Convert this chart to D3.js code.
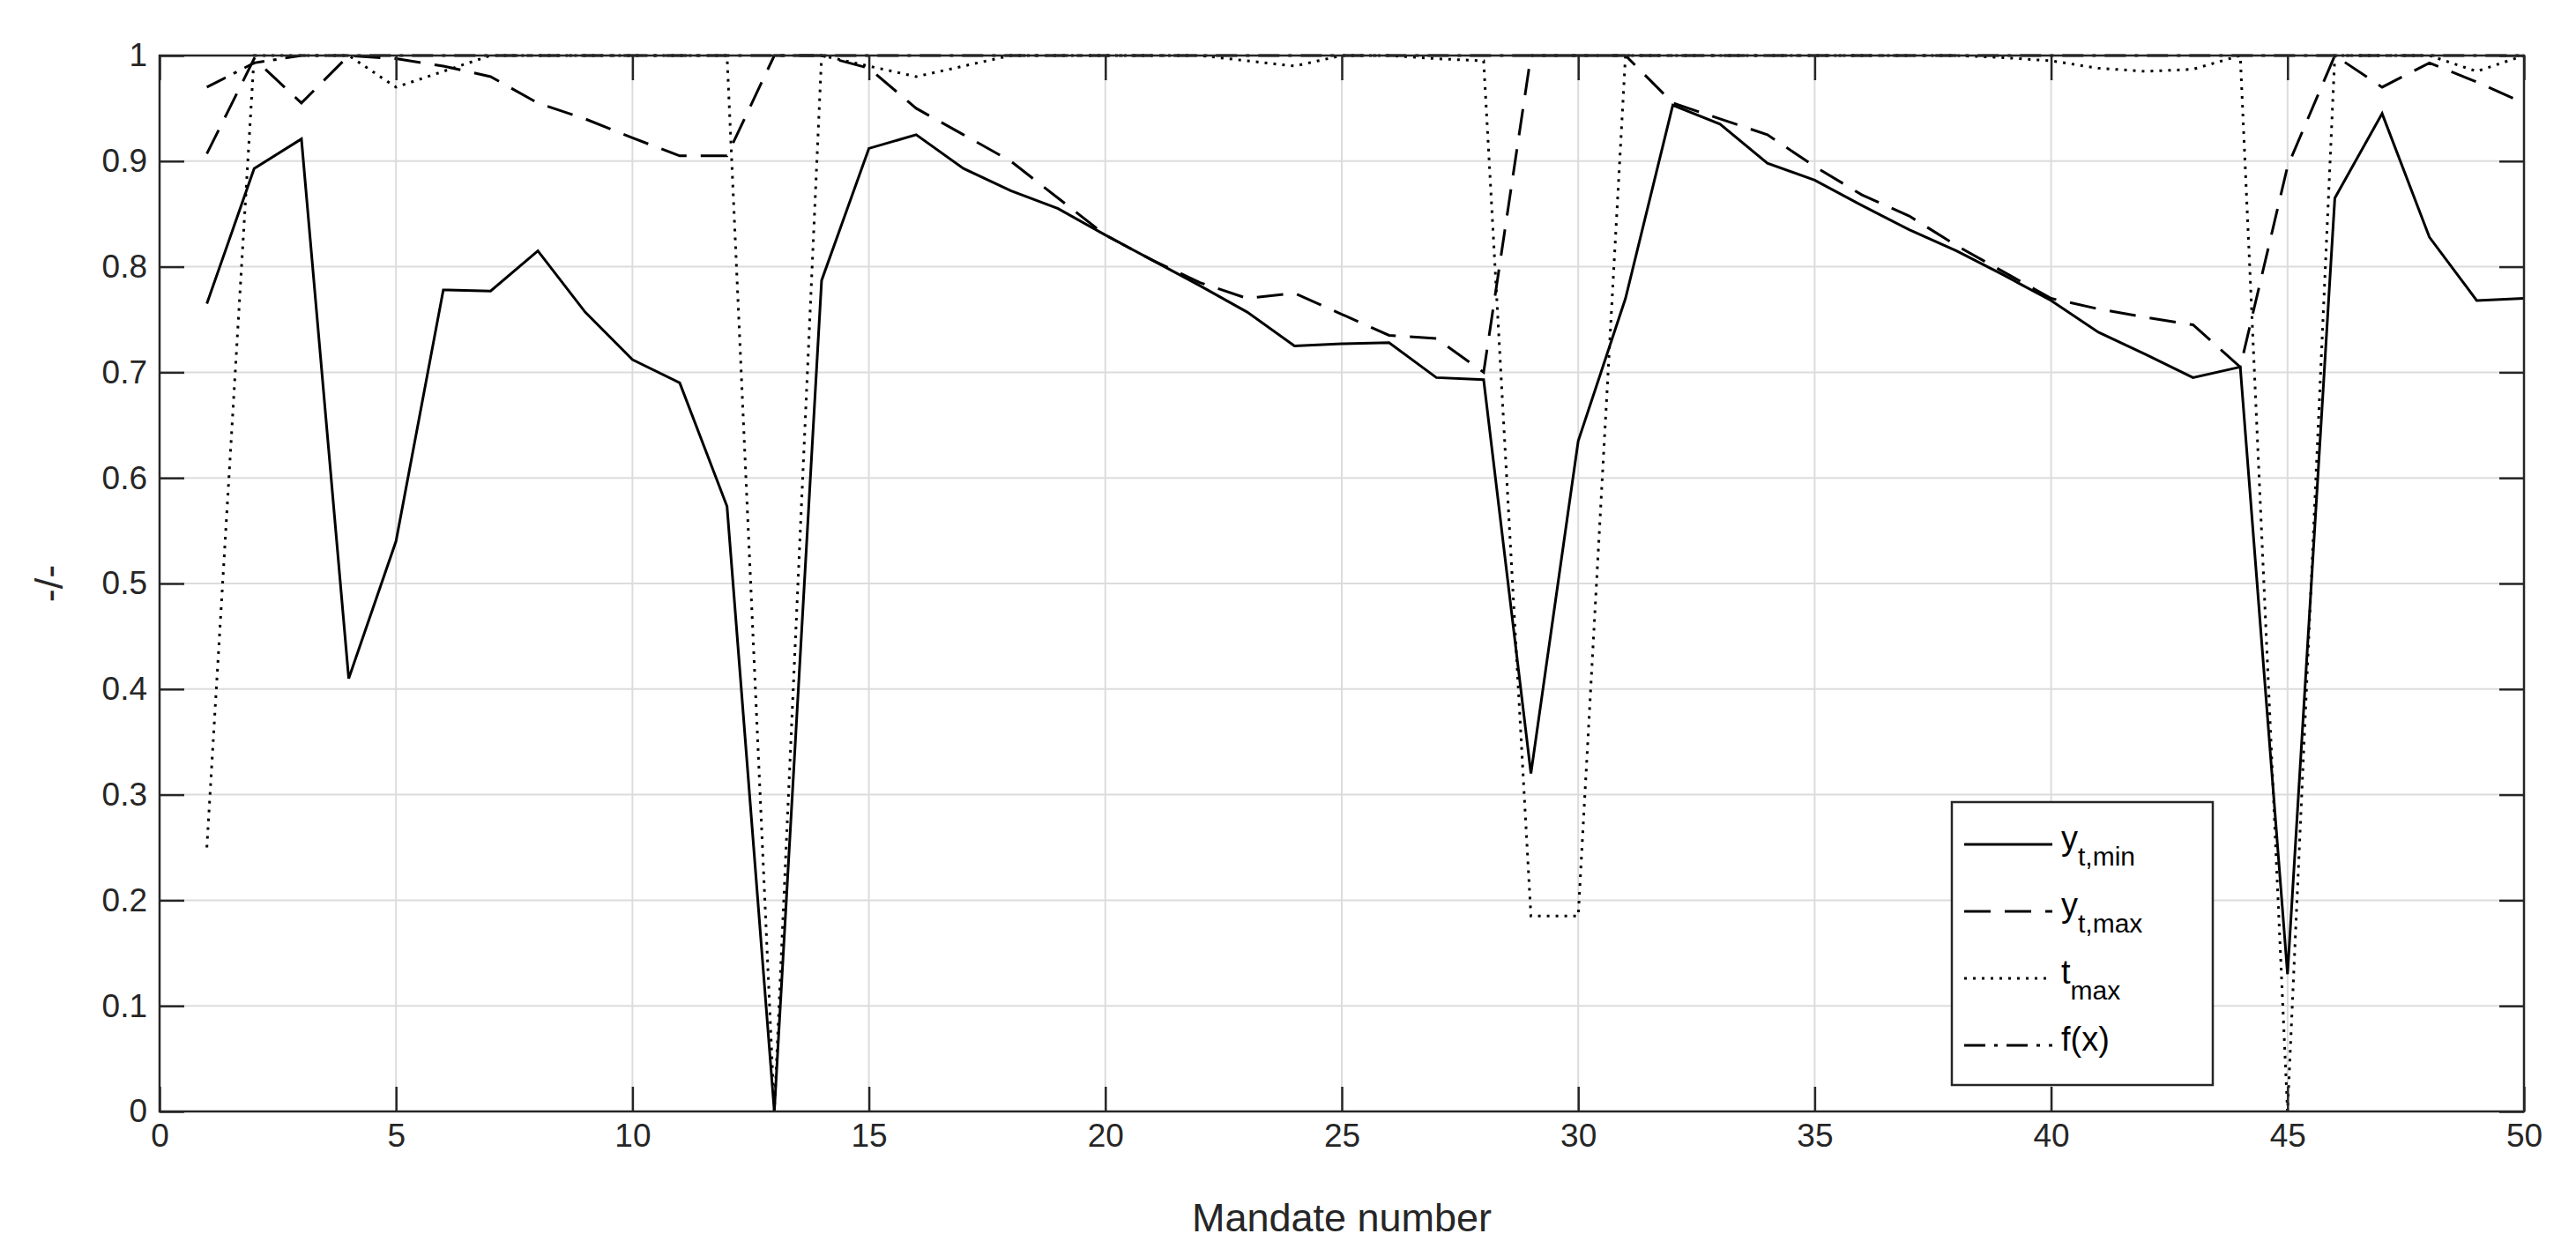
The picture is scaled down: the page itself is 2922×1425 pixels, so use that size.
<!DOCTYPE html>
<html>
<head>
<meta charset="utf-8">
<script src="https://cdn.jsdelivr.net/npm/d3@7"></script>
<style>
  body { margin: 0; background: #fff; }
  text { font-family: "Liberation Sans", Arial, sans-serif; }
</style>
</head>
<body>
<svg id="chart" width="2922" height="1425"></svg>
<script>
const mandates = d3.range(1, 51);

const yMin = [0.765, 0.893, 0.921, 0.41, 0.54, 0.778, 0.777, 0.815, 0.757, 0.712,
  0.69, 0.573, 0.0, 0.787, 0.912, 0.925, 0.893, 0.872, 0.855, 0.83,
  0.806, 0.782, 0.757, 0.725, 0.727, 0.728, 0.695, 0.693, 0.32, 0.635,
  0.77, 0.953, 0.935, 0.898, 0.882, 0.858, 0.835, 0.815, 0.792, 0.768,
  0.738, 0.717, 0.695, 0.705, 0.13, 0.865, 0.945, 0.828, 0.768, 0.77];

const yMax = [0.907, 0.997, 0.955, 1.0, 0.997, 0.99, 0.98, 0.955, 0.94, 0.922,
  0.905, 0.905, 1.0, 1.0, 0.988, 0.95, 0.925, 0.9, 0.865, 0.83,
  0.806, 0.785, 0.77, 0.775, 0.755, 0.735, 0.732, 0.7, 1.0, 1.0,
  1.0, 0.955, 0.94, 0.925, 0.895, 0.868, 0.848, 0.82, 0.795, 0.77,
  0.76, 0.752, 0.745, 0.705, 0.895, 1.0, 0.97, 0.993, 0.975, 0.955];

const tMax = [0.25, 1.0, 1.0, 1.0, 0.97, 0.985, 1.0, 1.0, 1.0, 1.0,
  1.0, 1.0, 0.0, 1.0, 0.99, 0.98, 0.99, 1.0, 1.0, 1.0,
  1.0, 1.0, 0.995, 0.99, 1.0, 1.0, 0.997, 0.995, 0.185, 0.185,
  1.0, 1.0, 1.0, 1.0, 1.0, 1.0, 1.0, 1.0, 0.998, 0.995,
  0.988, 0.985, 0.987, 1.0, 0.0, 1.0, 1.0, 1.0, 0.985, 1.0];

const fx = [0.97, 0.993, 1, 1, 1, 1, 1, 1, 1, 1,
  1, 1, 1, 1, 1, 1, 1, 1, 1, 1,
  1, 1, 1, 1, 1, 1, 1, 1, 1, 1,
  1, 1, 1, 1, 1, 1, 1, 1, 1, 1,
  1, 1, 1, 1, 1, 1, 1, 1, 1, 1];

const xTicks = d3.range(0, 51, 5);
const yTicks = d3.range(0, 11).map(i => i / 10);

const series = [
  { name: "y", sub: "t,min", values: yMin, dash: null },
  { name: "y", sub: "t,max", values: yMax, dash: "30,16" },
  { name: "t", sub: "max", values: tMax, dash: "3,7" },
  { name: "f(x)", sub: "", values: fx, dash: "24,10,4,10" }
];

const svg = d3.select("#chart");
const margin = { top: 63, right: 59, bottom: 164, left: 181 };
const innerWidth = 2922 - margin.left - margin.right;
const innerHeight = 1425 - margin.top - margin.bottom;

const x = d3.scaleLinear().domain([0, 50]).range([0, innerWidth]);
const y = d3.scaleLinear().domain([0, 1]).range([innerHeight, 0]);

const g = svg.append("g").attr("transform", `translate(${margin.left},${margin.top})`);

// grid
g.selectAll(".vgrid").data(xTicks).enter().append("line")
  .attr("x1", d => x(d)).attr("x2", d => x(d))
  .attr("y1", 0).attr("y2", innerHeight)
  .attr("stroke", "#dcdcdc").attr("stroke-width", 2);
g.selectAll(".hgrid").data(yTicks).enter().append("line")
  .attr("x1", 0).attr("x2", innerWidth)
  .attr("y1", d => y(d)).attr("y2", d => y(d))
  .attr("stroke", "#dcdcdc").attr("stroke-width", 2);

// lines
const line = vals => d3.line().x((d, i) => x(mandates[i])).y(d => y(d))(vals);
series.forEach(s => {
  g.append("path")
    .attr("d", line(s.values))
    .attr("fill", "none")
    .attr("stroke", "#000")
    .attr("stroke-width", 3)
    .attr("stroke-dasharray", s.dash);
});

// axes (box with inward ticks)
const styleAxis = a => {
  a.select(".domain").remove();
  a.selectAll("line").attr("stroke", "#262626").attr("stroke-width", 2.5);
  a.selectAll("text").attr("font-size", 37).attr("fill", "#262626")
    .style("font-family", "Liberation Sans, Arial, sans-serif");
};
g.append("g").attr("transform", `translate(0,${innerHeight})`)
  .call(d3.axisBottom(x).tickValues(xTicks).tickSize(-28).tickPadding(14))
  .call(styleAxis);
g.append("g")
  .call(d3.axisTop(x).tickValues(xTicks).tickSize(-28).tickFormat(""))
  .call(styleAxis);
g.append("g")
  .call(d3.axisLeft(y).tickValues(yTicks).tickSize(-28).tickPadding(14).tickFormat(d3.format("~g")))
  .call(styleAxis);
g.append("g").attr("transform", `translate(${innerWidth},0)`)
  .call(d3.axisRight(y).tickValues(yTicks).tickSize(-28).tickFormat(""))
  .call(styleAxis);
g.append("rect").attr("width", innerWidth).attr("height", innerHeight)
  .attr("fill", "none").attr("stroke", "#262626").attr("stroke-width", 2.5);

// axis labels
g.append("text")
  .attr("x", innerWidth / 2).attr("y", innerHeight + 136)
  .attr("text-anchor", "middle").attr("font-size", 45).attr("fill", "#262626")
  .text("Mandate number");
g.append("text")
  .attr("transform", `translate(-110,${innerHeight / 2}) rotate(-90)`)
  .attr("text-anchor", "middle").attr("font-size", 45).attr("fill", "#262626")
  .text("-/-");

// legend
const leg = svg.append("g").attr("transform", "translate(2214,910)");
leg.append("rect").attr("width", 296).attr("height", 321)
  .attr("fill", "#fff").attr("stroke", "#262626").attr("stroke-width", 2.5);
series.forEach((s, i) => {
  const ly = 48 + i * 76;
  leg.append("line").attr("x1", 14).attr("x2", 114).attr("y1", ly).attr("y2", ly)
    .attr("stroke", "#000").attr("stroke-width", 3).attr("stroke-dasharray", s.dash);
  const t = leg.append("text").attr("x", 124).attr("y", ly + 6)
    .attr("font-size", 38).attr("fill", "#000");
  t.append("tspan").text(s.name);
  if (s.sub) t.append("tspan").attr("dy", 18).attr("font-size", 30).text(s.sub);
});
</script>
</body>
</html>
